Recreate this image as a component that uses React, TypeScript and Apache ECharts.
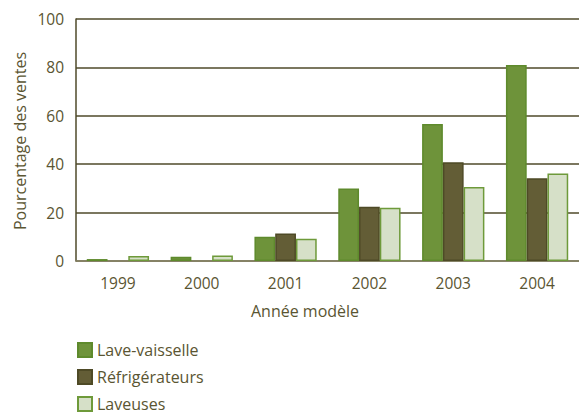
import React, { useEffect, useRef } from "react";
import * as echarts from "echarts";

const categories = ["1999", "2000", "2001", "2002", "2003", "2004"];
const laveVaisselle = [0.8, 1.8, 10, 30, 56.6, 81];
const refrigerateurs = [0, 0, 11.4, 22.4, 40.8, 34.2];
const laveuses = [2.1, 2.3, 9.2, 22, 30.6, 36.2];
const seriesNames = ["Lave-vaisselle", "Réfrigérateurs", "Laveuses"];

const FONT = "'Open Sans', sans-serif";
const TXT = "#5a5532";

export default function App() {
  const ref = useRef<HTMLDivElement>(null);
  useEffect(() => {
    if (!ref.current) return;
    const chart = echarts.init(ref.current, null, { renderer: "svg" });
    const mk = (name: string, data: number[], fill: string, border: string) => ({
      name,
      type: "bar",
      data: data.map((v) => (v === 0 ? { value: v, itemStyle: { borderWidth: 0 } } : v)),
      barGap: "0%",
      barCategoryGap: "25.7%",
      itemStyle: { color: fill, borderColor: border, borderWidth: 1.5 },
    });
    chart.setOption({
      animation: false,
      textStyle: { fontFamily: FONT, color: TXT },
      grid: { left: 76, right: -6, top: 19, bottom: 156 },
      legend: {
        orient: "vertical",
        left: 72,
        top: 337,
        height: 80,
        itemWidth: 14,
        itemHeight: 14,
        itemGap: 11,
        icon: "rect",
        data: seriesNames,
        textStyle: { fontFamily: FONT, color: TXT, fontSize: 16, lineHeight: 16 },
      },
      xAxis: {
        type: "category",
        data: categories,
        axisLine: { lineStyle: { color: "#8a876a", width: 1.5 } },
        axisTick: { show: false },
        axisLabel: { fontFamily: FONT, color: TXT, fontSize: 15.5, margin: 14 },
      },
      yAxis: {
        type: "value",
        min: 0,
        max: 100,
        interval: 20,
        axisLine: { show: true, lineStyle: { color: "#4f4a2a", width: 1.5 } },
        axisTick: { show: false },
        axisLabel: { fontFamily: FONT, color: TXT, fontSize: 15.5, margin: 12 },
        splitLine: { lineStyle: { color: "#4f4a2a", width: 1.5 } },
      },
      graphic: [
        {
          type: "text",
          left: 251,
          top: 303,
          style: { text: "Année modèle", fontFamily: FONT, fontSize: 16, fill: TXT },
        },
        {
          type: "text",
          x: 20,
          y: 141,
          rotation: Math.PI / 2,
          style: {
            text: "Pourcentage des ventes",
            fontFamily: FONT,
            fontSize: 16,
            fill: TXT,
            align: "center",
            verticalAlign: "middle",
          },
        },
      ],
      series: [
        mk(seriesNames[0], laveVaisselle, "#6e933a", "#5e8a2c"),
        mk(seriesNames[1], refrigerateurs, "#635d36", "#4e4a26"),
        mk(seriesNames[2], laveuses, "#d6e0c8", "#6e9a3a"),
      ],
    });
    return () => chart.dispose();
  }, []);
  return <div ref={ref} style={{ width: 579, height: 417, position: "absolute", left: 0, top: 0 }} />;
}
